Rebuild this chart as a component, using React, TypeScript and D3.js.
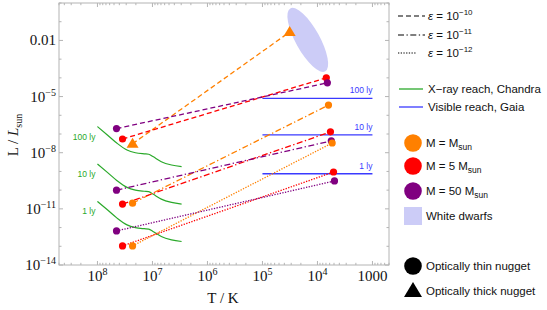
import React from "react";
import * as d3 from "d3";

const W = 547;
const H = 310;

// ---- data ----
const epsExponents = ["−10", "−11", "−12"];
const massNames = ["M = M", "M = 5 M", "M = 50 M"];
const massColors = ["#ff8000", "#ff0000", "#800080"];

// rows: epsilon (1e-10, 1e-11, 1e-12); cols: mass (1, 5, 50 Msun)
const tStart = [
  [2.3e7, 3.5e7, 4.5e7],
  [2.3e7, 3.5e7, 4.5e7],
  [2.3e7, 3.5e7, 4.5e7],
];
const lStart = [
  [3.0e-8, 5.4e-8, 1.95e-7],
  [2.0e-11, 1.8e-11, 1.0e-10],
  [1.05e-13, 1.05e-13, 6.6e-13],
];
const tEnd = [
  [3.2e4, 6.9e3, 6.6e3],
  [6.3e3, 5.8e3, 5.6e3],
  [5.4e3, 5.1e3, 4.9e3],
];
const lEnd = [
  [2.8e-2, 1.0e-4, 5.4e-5],
  [3.5e-6, 1.3e-7, 4.3e-8],
  [3.3e-8, 9.3e-10, 3.1e-10],
];
const opticallyThick = [
  [true, false, false],
  [false, false, false],
  [false, false, false],
];

// Chandra X-ray reach curves
const distLabels = ["100 ly", "10 ly", "1 ly"];
const chandraT = [1e8, 6.6e7, 4.4e7, 2.9e7, 2.04e7, 1.41e7, 1.17e7, 9.8e6, 6.9e6, 4.5e6, 2.95e6];
const chandraL100 = [2.5e-7, 8.9e-8, 3.2e-8, 1.4e-8, 1.0e-8, 8.7e-9, 8.3e-9, 6.2e-9, 3.3e-9, 2.2e-9, 1.8e-9];
const chandraL10 = [2.5e-9, 8.9e-10, 3.2e-10, 1.4e-10, 1.0e-10, 8.7e-11, 8.3e-11, 6.2e-11, 3.3e-11, 2.2e-11, 1.8e-11];
const chandraL1 = [2.5e-11, 8.9e-12, 3.2e-12, 1.4e-12, 1.0e-12, 8.7e-13, 8.3e-13, 6.2e-13, 3.3e-13, 2.2e-13, 1.8e-13];
const chandraL = [chandraL100, chandraL10, chandraL1];

// Gaia visible reach
const gaiaT = [1e5, 1e3];
const gaiaL = [8.1e-6, 9.0e-8, 7.5e-10];

// White dwarf region
const wdCenterT = 1.5e4;
const wdCenterL = 1.07e-2;

// axis ticks
const xTickValues = [1e8, 1e7, 1e6, 1e5, 1e4, 1e3];
const xTickBase = ["10", "10", "10", "10", "10", "1000"];
const xTickSup = ["8", "7", "6", "5", "4", ""];
const yTickValues = [1e-14, 1e-11, 1e-8, 1e-5, 1e-2];
const yTickBase = ["10", "10", "10", "10", "0.01"];
const yTickSup = ["−14", "−11", "−8", "−5", ""];

const dashes = ["5,3", "6,2.5,1.3,2.5", "1.3,1.4"];

const SERIF = "'Liberation Serif', 'DejaVu Serif', serif";
const SANS = "'Liberation Sans', Arial, sans-serif";
const GREEN = "#2aa92a";
const BLUE = "#3a3aff";
const FRAME = "#b4b4b4";

function tri(cx: number, cy: number, w: number, h: number) {
  return `M${cx},${cy - h * 0.6}L${cx + w / 2},${cy + h * 0.4}L${cx - w / 2},${cy + h * 0.4}Z`;
}

export default function App() {
  const x = d3.scaleLog().domain([5e8, 500]).range([59, 389]);
  const y = d3.scaleLog().domain([1e-14, 1]).range([265, 3]);
  const [x0, x1] = x.range();
  const [yb, yt] = y.range();

  // minor x ticks
  const xMinor: number[] = [];
  for (let n = 2; n <= 8; n++) {
    for (let k = 2; k <= 9; k++) {
      const v = k * Math.pow(10, n);
      if (v <= 5e8 && v >= 500) xMinor.push(v);
    }
  }
  const yDecades: number[] = [];
  for (let e = -14; e <= 0; e++) yDecades.push(Math.pow(10, e));

  const line = d3
    .line<[number, number]>()
    .x((d) => x(d[0]))
    .y((d) => y(d[1]))
    .curve(d3.curveMonotoneX);

  const wdx = x(wdCenterT);
  const wdy = y(wdCenterL);

  const legX = 398;
  const legTextX = 428;

  return (
    <div style={{ position: "absolute", left: 0, top: 0 }}>
      <svg width={W} height={H} style={{ display: "block", background: "#fff" }}>
        {/* White dwarf ellipse */}
        <ellipse
          cx={wdx}
          cy={wdy}
          rx={12}
          ry={36}
          transform={`rotate(-29 ${wdx} ${wdy})`}
          fill="#ccccf7"
        />

        {/* Chandra curves */}
        {chandraL.map((Ls, i) => (
          <g key={"ch" + i}>
            <path
              d={line(chandraT.map((t, j) => [t, Ls[j]] as [number, number])) || ""}
              fill="none"
              stroke={GREEN}
              strokeWidth={1.2}
            />
            <text
              x={x(chandraT[0]) - 2}
              y={y(Ls[0]) + 13}
              fontFamily={SANS}
              fontSize={8.5}
              fill={GREEN}
              textAnchor="end"
            >
              {distLabels[i]}
            </text>
          </g>
        ))}

        {/* Gaia lines */}
        {gaiaL.map((L, i) => (
          <g key={"ga" + i}>
            <line
              x1={x(gaiaT[0])}
              x2={x(gaiaT[1])}
              y1={y(L)}
              y2={y(L)}
              stroke={BLUE}
              strokeWidth={1.3}
            />
            <text
              x={x(gaiaT[1])}
              y={y(L) - 5}
              fontFamily={SANS}
              fontSize={8.5}
              fill={BLUE}
              textAnchor="end"
            >
              {distLabels[i]}
            </text>
          </g>
        ))}

        {/* nugget tracks */}
        {tStart.map((row, ei) =>
          row.map((_, mi) => (
            <line
              key={`l${ei}-${mi}`}
              x1={x(tStart[ei][mi])}
              y1={y(lStart[ei][mi])}
              x2={x(tEnd[ei][mi])}
              y2={y(lEnd[ei][mi])}
              stroke={massColors[mi]}
              strokeWidth={1.3}
              strokeDasharray={dashes[ei]}
            />
          ))
        )}
        {tStart.map((row, ei) =>
          row.map((_, mi) => {
            const pts: [number, number][] = [
              [tStart[ei][mi], lStart[ei][mi]],
              [tEnd[ei][mi], lEnd[ei][mi]],
            ];
            return pts.map((p, k) =>
              opticallyThick[ei][mi] ? (
                <path
                  key={`m${ei}-${mi}-${k}`}
                  d={tri(x(p[0]), y(p[1]), 12, 10)}
                  fill={massColors[mi]}
                />
              ) : (
                <circle
                  key={`m${ei}-${mi}-${k}`}
                  cx={x(p[0])}
                  cy={y(p[1])}
                  r={3.6}
                  fill={massColors[mi]}
                />
              )
            );
          })
        )}

        {/* frame */}
        <rect x={x0} y={yt} width={x1 - x0} height={yb - yt} fill="none" stroke={FRAME} strokeWidth={1} />
        {xTickValues.map((v) => (
          <g key={"xt" + v}>
            <line x1={x(v)} x2={x(v)} y1={yb} y2={yb - 4} stroke={FRAME} />
            <line x1={x(v)} x2={x(v)} y1={yt} y2={yt + 4} stroke={FRAME} />
          </g>
        ))}
        {xMinor.map((v) => (
          <g key={"xm" + v}>
            <line x1={x(v)} x2={x(v)} y1={yb} y2={yb - 2.2} stroke={FRAME} />
            <line x1={x(v)} x2={x(v)} y1={yt} y2={yt + 2.2} stroke={FRAME} />
          </g>
        ))}
        {yDecades.map((v) => {
          const major = yTickValues.some((t) => Math.abs(Math.log10(t) - Math.log10(v)) < 1e-6);
          const len = major ? 4 : 2.5;
          return (
            <g key={"yt" + v}>
              <line x1={x0} x2={x0 + len} y1={y(v)} y2={y(v)} stroke={FRAME} />
              <line x1={x1} x2={x1 - len} y1={y(v)} y2={y(v)} stroke={FRAME} />
            </g>
          );
        })}

        {/* tick labels */}
        {xTickValues.map((v, i) => (
          <text
            key={"xl" + v}
            x={x(v)}
            y={281}
            fontFamily={SERIF}
            fontSize={15}
            textAnchor="middle"
            fill="#111"
          >
            {xTickBase[i]}
            {xTickSup[i] && (
              <tspan fontSize={10} dy={-6}>
                {xTickSup[i]}
              </tspan>
            )}
          </text>
        ))}
        {yTickValues.map((v, i) => (
          <text
            key={"yl" + v}
            x={56}
            y={y(v) + 5}
            fontFamily={SERIF}
            fontSize={15}
            textAnchor="end"
            fill="#111"
          >
            {yTickBase[i]}
            {yTickSup[i] && (
              <tspan fontSize={10} dy={-6}>
                {yTickSup[i]}
              </tspan>
            )}
          </text>
        ))}

        {/* axis titles */}
        <text x={223} y={303} fontFamily={SERIF} fontSize={15} textAnchor="middle" fill="#111">
          T / K
        </text>
        <text
          transform="translate(18,135) rotate(-90)"
          fontFamily={SERIF}
          fontSize={15}
          textAnchor="middle"
          fill="#111"
        >
          L / <tspan fontStyle="italic">L</tspan>
          <tspan fontSize={10} dy={4}>
            sun
          </tspan>
        </text>

        {/* legend: epsilon */}
        {epsExponents.map((e, i) => {
          const ly = [16, 35, 53][i];
          return (
            <g key={"le" + i}>
              <line
                x1={legX}
                x2={i === 2 ? 416 : 425}
                y1={ly}
                y2={ly}
                stroke="#000"
                strokeWidth={1.2}
                strokeDasharray={dashes[i]}
              />
              <text x={legTextX} y={ly + 4} fontFamily={SANS} fontSize={11.5} fill="#111">
                <tspan fontStyle="italic">ε</tspan> = 10
                <tspan fontSize={8} dy={-5}>
                  {e}
                </tspan>
              </text>
            </g>
          );
        })}
        <line x1={399} x2={423} y1={89} y2={89} stroke={GREEN} strokeWidth={1.3} />
        <text x={legTextX} y={93} fontFamily={SANS} fontSize={11.5} fill="#111">
          X−ray reach, Chandra
        </text>
        <line x1={399} x2={423} y1={107} y2={107} stroke={BLUE} strokeWidth={1.3} />
        <text x={legTextX} y={111} fontFamily={SANS} fontSize={11.5} fill="#111">
          Visible reach, Gaia
        </text>

        {/* legend: masses */}
        {massNames.map((m, i) => {
          const ly = [143, 166, 191][i];
          return (
            <g key={"lm" + i}>
              <circle cx={413} cy={ly} r={8.8} fill={massColors[i]} />
              <text x={426} y={ly + 4} fontFamily={SANS} fontSize={11.5} fill="#111">
                {m}
                <tspan fontSize={8.5} dy={3}>
                  sun
                </tspan>
              </text>
            </g>
          );
        })}
        <rect x={404} y={207} width={18} height={18} fill="#ccccf7" />
        <text x={426} y={220} fontFamily={SANS} fontSize={11.5} fill="#111">
          White dwarfs
        </text>
        <circle cx={413} cy={266} r={8.8} fill="#000" />
        <text x={426} y={270} fontFamily={SANS} fontSize={11.5} fill="#111">
          Optically thin nugget
        </text>
        <path d={tri(413, 291, 18, 15)} fill="#000" />
        <text x={426} y={295} fontFamily={SANS} fontSize={11.5} fill="#111">
          Optically thick nugget
        </text>
      </svg>
    </div>
  );
}
